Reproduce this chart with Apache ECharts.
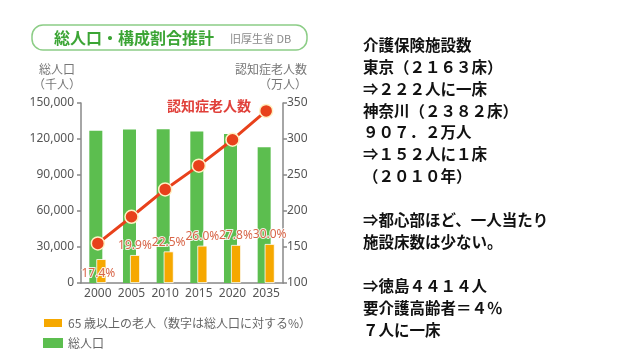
<!DOCTYPE html>
<html>
<head>
<meta charset="utf-8">
<script src="https://cdn.jsdelivr.net/npm/echarts@6/dist/echarts.min.js"></script>
<style>
html,body{margin:0;padding:0;background:#fff;}
#main{width:638px;height:359px;}
</style>
</head>
<body>
<div id="main"></div>
<script>
// ---- data ----
const years = ['2000', '2005', '2010', '2015', '2020', '2035'];
const totalPop = [126900, 128000, 128200, 126200, 124100, 113100];      // 総人口 (千人)
const elderlyPop = [19900, 23300, 26300, 31100, 31700, 32500];          // 65歳以上 (千人)
const elderlyPct = ['17.4%', '19.9%', '22.5%', '26.0%', '27.8%', '30.0%'];
const dementia = [155, 192, 230, 263, 299, 339];                         // 認知症老人数 (万人)
const leftTicks = { min: 0, max: 150000, interval: 30000 };
const rightTicks = { min: 100, max: 350, interval: 50 };
const sideText = [
  '介護保険施設数',
  '東京（２１６３床）',
  '⇒２２２人に一床',
  '神奈川（２３８２床）',
  '９０７．２万人',
  '⇒１５２人に１床',
  '（２０１０年）',
  '',
  '⇒都心部ほど、一人当たり',
  '施設床数は少ない。',
  '',
  '⇒徳島４４１４人',
  '要介護高齢者＝４％',
  '７人に一床'
];

const font = '"Noto Sans", "Noto Sans CJK JP", sans-serif';
const cjk = '"Noto Sans CJK JP", sans-serif';

const chart = echarts.init(document.getElementById('main'), null, { renderer: 'canvas' });
chart.setOption({
  animation: false,
  backgroundColor: '#fff',
  textStyle: { fontFamily: font },
  grid: { left: 81, right: 355, top: 103, bottom: 76, containLabel: false },
  legend: {
    orient: 'vertical',
    left: 37,
    top: 312,
    itemWidth: 20,
    itemHeight: 10,
    itemGap: 8,
    icon: 'rect',
    data: ['65 歳以上の老人（数字は総人口に対する%）', '総人口'],
    textStyle: { color: '#666', fontSize: 12, fontFamily: cjk }
  },
  xAxis: {
    type: 'category',
    data: years,
    axisLine: { lineStyle: { color: '#888', width: 1.5 } },
    axisTick: { show: false },
    axisLabel: { color: '#555', fontSize: 12, margin: 5, interval: 0, fontFamily: font }
  },
  yAxis: [
    {
      type: 'value',
      min: leftTicks.min, max: leftTicks.max, interval: leftTicks.interval,
      axisLine: { show: true, lineStyle: { color: '#888', width: 1.5 } },
      axisTick: { show: true, length: 4, lineStyle: { color: '#888', width: 1.5 } },
      splitLine: { show: false },
      axisLabel: {
        color: '#555', fontSize: 12, margin: 7,
        formatter: v => v.toLocaleString('en-US')
      }
    },
    {
      type: 'value',
      min: rightTicks.min, max: rightTicks.max, interval: rightTicks.interval,
      position: 'right',
      axisLine: { show: true, lineStyle: { color: '#888', width: 1.5 } },
      axisTick: { show: true, length: 4, lineStyle: { color: '#888', width: 1.5 } },
      splitLine: { show: false },
      axisLabel: { color: '#555', fontSize: 12, margin: 4 }
    }
  ],
  series: [
    {
      name: '総人口',
      type: 'bar',
      data: totalPop,
      barWidth: 13,
      barGap: '-46%',
      itemStyle: { color: '#5cbe4f' }
    },
    {
      name: '65 歳以上の老人（数字は総人口に対する%）',
      type: 'bar',
      data: elderlyPop.map((v, i) => i === 0
        ? { value: v, label: { position: 'inside', offset: [-3, 3] } }
        : v),
      barWidth: 10,
      itemStyle: { color: '#f6a800', borderColor: '#ffffff', borderWidth: 0.8 },
      label: {
        show: true,
        position: 'top',
        distance: 3,
        color: '#d8674a',
        fontSize: 12,
        fontFamily: font,
        textBorderColor: 'rgba(255,255,255,0.85)',
        textBorderWidth: 2,
        formatter: p => elderlyPct[p.dataIndex]
      }
    },
    {
      name: '認知症老人数',
      type: 'line',
      yAxisIndex: 1,
      data: dementia,
      z: 5,
      symbol: 'circle',
      symbolSize: 13,
      lineStyle: { color: '#e8411b', width: 3 },
      itemStyle: { color: '#e8411b', borderColor: '#fff2c4', borderWidth: 1.5 }
    }
  ],
  graphic: [
    {
      type: 'rect',
      shape: { x: 32, y: 25, width: 275, height: 25, r: 11 },
      style: { fill: '#fff', stroke: '#8ccd86', lineWidth: 1.5 },
      z: 10
    },
    {
      type: 'text', z: 11,
      style: { x: 54, y: 38, text: '総人口・構成割合推計', fill: '#3ca535',
        font: 'bold 16px ' + cjk, textVerticalAlign: 'middle' }
    },
    {
      type: 'text', z: 11,
      style: { x: 230, y: 39, text: '旧厚生省 DB', fill: '#8a8a8a',
        font: '11px ' + cjk, textVerticalAlign: 'middle' }
    },
    {
      type: 'text', z: 11,
      style: { x: 57, y: 62, text: '総人口\n（千人）', fill: '#777',
        font: '12px ' + cjk, textAlign: 'center', lineHeight: 15 }
    },
    {
      type: 'text', z: 11,
      style: { x: 307, y: 62, text: '認知症老人数\n（万人）', fill: '#777',
        font: '12px ' + cjk, textAlign: 'right', lineHeight: 15 }
    },
    {
      type: 'text', z: 11,
      style: { x: 209, y: 106, text: '認知症老人数', fill: '#e0403a',
        font: 'bold 14px ' + cjk, textAlign: 'center', textVerticalAlign: 'middle' }
    },
    {
      type: 'text', z: 11,
      style: { x: 363, y: 34, text: sideText.join('\n'), fill: '#111',
        font: 'bold 15.5px ' + cjk, lineHeight: 21.9 }
    }
  ]
});
</script>
</body>
</html>
